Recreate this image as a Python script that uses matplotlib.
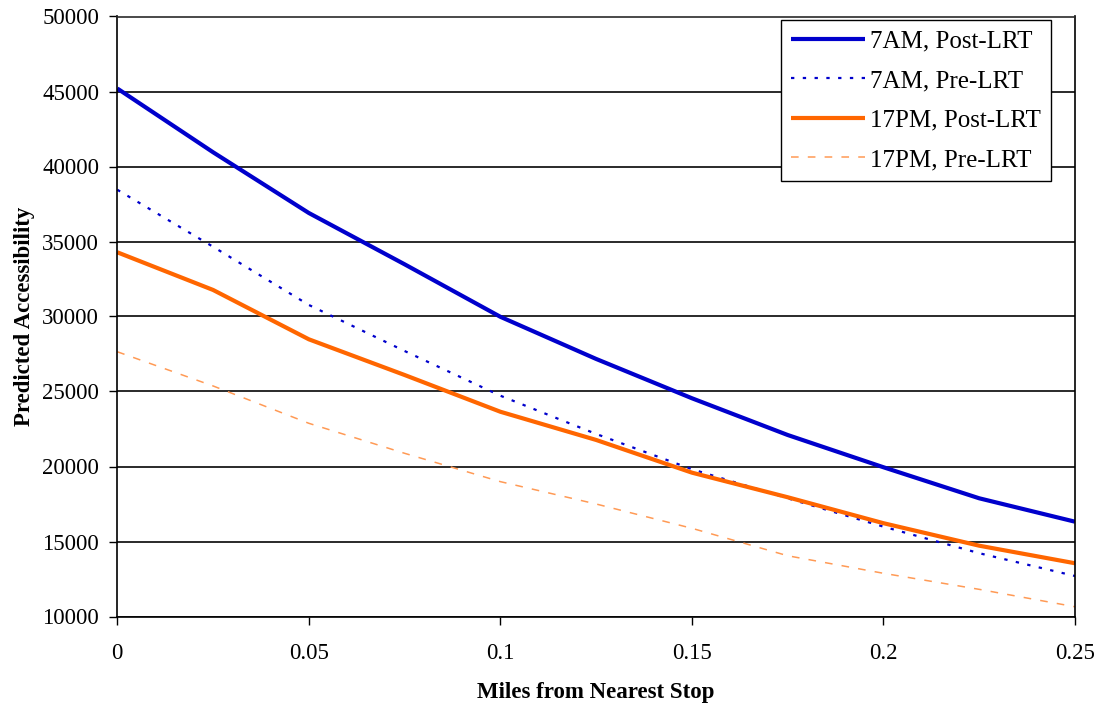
import matplotlib
matplotlib.use("Agg")
import matplotlib.pyplot as plt

plt.rcParams['font.family'] = ['Liberation Serif', 'DejaVu Serif']

# Distance from the nearest LRT stop (miles)
miles = [0, 0.025, 0.05, 0.075, 0.1, 0.125, 0.15, 0.175, 0.2, 0.225, 0.25]

# Predicted accessibility by time of day, before and after the LRT opened
am_post = [45200, 40950, 36900, 33480, 29980, 27170, 24550, 22100, 19950, 17880, 16320]
am_pre = [38450, 34650, 30770, 27700, 24720, 22170, 19820, 17880, 15990, 14220, 12700]
pm_post = [34280, 31770, 28480, 26100, 23650, 21770, 19590, 17950, 16220, 14720, 13550]
pm_pre = [27650, 25370, 22880, 20880, 18990, 17500, 15880, 14050, 12880, 11810, 10650]

series_labels = ["7AM, Post-LRT", "7AM, Pre-LRT", "17PM, Post-LRT", "17PM, Pre-LRT"]
x_ticks = [0, 0.05, 0.1, 0.15, 0.2, 0.25]
x_tick_labels = ["0", "0.05", "0.1", "0.15", "0.2", "0.25"]
y_ticks = [10000, 15000, 20000, 25000, 30000, 35000, 40000, 45000, 50000]

W, H = 1103, 707
fig = plt.figure(figsize=(W / 100, H / 100), dpi=100)
ax = fig.add_axes([117.3 / W, 1 - 616.5 / H, (1075 - 117.3) / W, (616.5 - 16.5) / H])

blue = "#0000CC"
orange = "#FF6600"
light_orange = "#FF9A55"

ax.plot(miles, am_post, color=blue, lw=3.0, label=series_labels[0], solid_capstyle="butt")
ax.plot(miles, am_pre, color=blue, lw=1.6, dashes=(1.5, 3.8), label=series_labels[1])
ax.plot(miles, pm_post, color=orange, lw=3.0, label=series_labels[2], solid_capstyle="butt")
ax.plot(miles, pm_pre, color=light_orange, lw=1.1, dashes=(5, 6), label=series_labels[3])

ax.set_xlim(0, 0.25)
ax.set_ylim(10000, 50000)
ax.set_xticks(x_ticks)
ax.set_xticklabels(x_tick_labels)
ax.set_yticks(y_ticks)
ax.set_yticklabels([str(v) for v in y_ticks])

ax.yaxis.grid(True, color="#2a2a2a", lw=1.4)
ax.set_axisbelow(True)
for side in ["left", "right", "top", "bottom"]:
    ax.spines[side].set_color("black")
    ax.spines[side].set_linewidth(1.2)
ax.spines["top"].set_color("#2a2a2a")

ax.tick_params(axis="both", direction="out", length=6, width=1, labelsize=16.5, colors="black")
ax.tick_params(axis="x", pad=13)
ax.tick_params(axis="y", pad=7)

ax.set_xlabel("Miles from Nearest Stop", fontsize=16.5, fontweight="bold", labelpad=13)
ax.set_ylabel("Predicted Accessibility", fontsize=16.5, fontweight="bold", labelpad=5)

leg = ax.legend(loc="upper right", bbox_to_anchor=(1050.7 / W, 1 - 20 / H),
                bbox_transform=fig.transFigure, fontsize=18, frameon=True,
                fancybox=False, framealpha=1, edgecolor="black",
                borderaxespad=0, borderpad=0.4, handlelength=2.95,
                handletextpad=0.2, labelspacing=0.68)
leg.get_frame().set_linewidth(1.0)

fig.savefig("out.png", dpi=100)
